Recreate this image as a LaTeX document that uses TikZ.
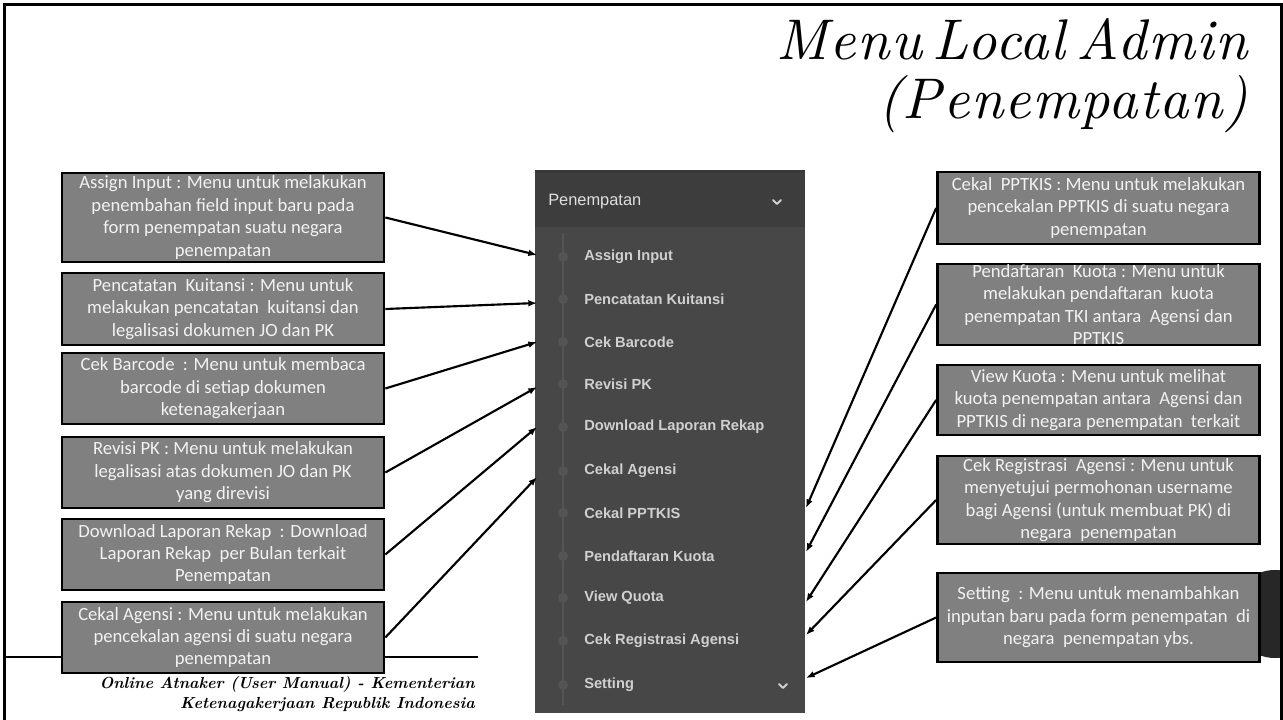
\documentclass[tikz,border=0pt]{standalone}
\usepackage{fontspec}
\setmainfont{Latin Modern Roman}
\newfontfamily\titlefont{lmroman10-italic.otf}[WordSpace=0.5,LetterSpace=2.5]
\newfontfamily\boxfont{Carlito}
\newfontfamily\menufont{Liberation Sans}
\usetikzlibrary{arrows.meta}
\definecolor{boxgray}{HTML}{808080}
\definecolor{boxtext}{HTML}{F2F2F2}
\definecolor{panelbody}{HTML}{474747}
\definecolor{panelhead}{HTML}{3D3D3D}
\definecolor{itemtext}{HTML}{D0D0D0}
\definecolor{railcol}{HTML}{545454}
\definecolor{disccol}{HTML}{272727}
\tikzset{
  descbox/.style={draw=black, line width=2pt, fill=boxgray, text=boxtext,
    font=\boxfont\fontsize{14}{16.8}\selectfont, align=center, inner sep=0pt,
    minimum width=241.5pt},
  menuitem/.style={anchor=west, text=itemtext, inner sep=0pt,
    font=\menufont\fontsize{11}{13}\selectfont\bfseries},
  pointer/.style={draw=black, line width=1.6pt, -{Latex[length=6.5pt,width=5pt]}},
  chev/.style={draw=itemtext, line width=1.4pt, line cap=round, line join=round},
  raildot/.style={circle, fill=railcol, inner sep=0pt, minimum size=7.5pt},
  frameline/.style={draw=black, line width=1.6pt},
  titletext/.style={anchor=base east, inner sep=0pt,
    font=\titlefont\fontsize{43}{50}\selectfont},
  foottext/.style={anchor=base east, inner sep=0pt, font=\fontsize{12}{14}\selectfont\bfseries\itshape},
}
\begin{document}
\begin{tikzpicture}[x=0.75pt,y=-0.75pt]
\useasboundingbox (0,0) rectangle (1283,720);
% background disc at right edge
\begin{scope}
  \clip (0,0) rectangle (1281,720);
  \fill[disccol] (1275,614) circle[radius=33pt];
\end{scope}
% frame
\draw[frameline] (4.5,725) -- (4.5,4.5) -- (1281.5,4.5) -- (1281.5,725);
% footer rule
\draw[black, line width=2pt] (4.5,657) -- (478,657);

% title
\node[titletext] (title1) at (1248,60) {Menu Local Admin};
\node[titletext] (title2) at (1248,119) {(Penempatan)};

% footer text
\node[foottext] (foot1) at (475,688) {Online Atnaker (User Manual) - Kementerian};
\node[foottext] (foot2) at (475,708) {Ketenagakerjaan Republik Indonesia};

% menu panel
\fill[panelbody] (535,170) rectangle (805,713);
\fill[panelhead] (535,170) rectangle (805,227);
\fill[black!78] (535,170) rectangle (805,173);
\node[anchor=west, inner sep=0pt, text=white!88!black, font=\menufont\fontsize{12.3}{14}\selectfont] (head) at (548,202) {Penempatan};
\draw[chev] (773,200) -- (777,204) -- (781,200);
\draw[railcol, line width=1.2pt] (563,233) -- (563,705);
\foreach \yy in {257,299,342,384,427,471,513,556,598,641,685}
  \node[raildot] at (563,\yy) {};
\node[menuitem] (i1) at (584,257) {Assign Input};
\node[menuitem] (i2) at (584,299) {Pencatatan Kuitansi};
\node[menuitem] (i3) at (584,342) {Cek Barcode};
\node[menuitem] (i4) at (584,384) {Revisi PK};
\node[menuitem] (i5) at (584,427) {Download Laporan Rekap};
\node[menuitem] (i6) at (584,471) {Cekal Agensi};
\node[menuitem] (i7) at (584,513) {Cekal PPTKIS};
\node[menuitem] (i8) at (584,556) {Pendaftaran Kuota};
\node[menuitem] (i9) at (584,598) {View Quota};
\node[menuitem] (i10) at (584,641) {Cek Registrasi Agensi};
\node[menuitem] (i11) at (584,685) {Setting};
\draw[chev] (779,684) -- (783,688) -- (787,684);

% left description boxes
\node[descbox, minimum height=66.75pt] (L1) at (223,217.5) {Assign Input : Menu untuk melakukan\\penembahan field input baru pada\\form penempatan suatu negara\\penempatan};
\node[descbox, minimum height=54pt] (L2) at (223,309) {Pencatatan \ Kuitansi : Menu untuk\\melakukan pencatatan \ kuitansi dan\\legalisasi dokumen JO dan PK};
\node[descbox, minimum height=53.25pt] (L3) at (223,388.5) {Cek Barcode \ : Menu untuk membaca\\barcode di setiap dokumen\\ketenagakerjaan};
\node[descbox, minimum height=53.25pt] (L4) at (223,472.5) {Revisi PK : Menu untuk melakukan\\legalisasi atas dokumen JO dan PK\\yang direvisi};
\node[descbox, minimum height=53.25pt] (L5) at (223,554.5) {Download Laporan Rekap \ : Download\\Laporan Rekap \ per Bulan terkait\\Penempatan};
\node[descbox, minimum height=53.25pt] (L6) at (223,637.5) {Cekal Agensi : Menu untuk melakukan\\pencekalan agensi di suatu negara\\penempatan};

% right description boxes
\node[descbox, minimum height=54pt] (R1) at (1098.5,208) {Cekal \ PPTKIS : Menu untuk melakukan\\pencekalan PPTKIS di suatu negara\\penempatan};
\node[descbox, minimum height=60.75pt] (R2) at (1098.5,304.5) {Pendaftaran \ Kuota : Menu untuk\\melakukan pendaftaran \ kuota\\penempatan TKI antara \ Agensi dan\\PPTKIS};
\node[descbox, minimum height=52.5pt] (R3) at (1098.5,400) {View Kuota : Menu untuk melihat\\kuota penempatan antara \ Agensi dan\\PPTKIS di negara penempatan \ terkait};
\node[descbox, minimum height=66pt] (R4) at (1098.5,500) {Cek Registrasi \ Agensi : Menu untuk\\menyetujui permohonan username\\bagi Agensi (untuk membuat PK) di\\negara \ penempatan};
\node[descbox, minimum height=66.75pt] (R5) at (1098.5,617.5) {Setting \ : Menu untuk menambahkan\\inputan baru pada form penempatan \ di\\negara \ penempatan ybs.};

% arrow targets on panel edges
\coordinate (tL1) at (537,255);
\coordinate (tL2) at (537,303);
\coordinate (tL3) at (537,342);
\coordinate (tL4) at (537,387);
\coordinate (tL5) at (537,427);
\coordinate (tL6) at (537,477);
\coordinate (tR1) at (806,508);
\coordinate (tR2) at (806,552);
\coordinate (tR3) at (806,602);
\coordinate (tR4) at (806,635);
\coordinate (tR5) at (806,678);

\draw[pointer] (L1.east) -- (tL1);
\draw[pointer] (L2.east) -- (tL2);
\draw[pointer] (L3.east) -- (tL3);
\draw[pointer] (L4.east) -- (tL4);
\draw[pointer] (L5.east) -- (tL5);
\draw[pointer] (L6.east) -- (tL6);
\draw[pointer] (R1.west) -- (tR1);
\draw[pointer] (R2.west) -- (tR2);
\draw[pointer] (R3.west) -- (tR3);
\draw[pointer] (R4.west) -- (tR4);
\draw[pointer] (R5.west) -- (tR5);
\end{tikzpicture}
\end{document}
